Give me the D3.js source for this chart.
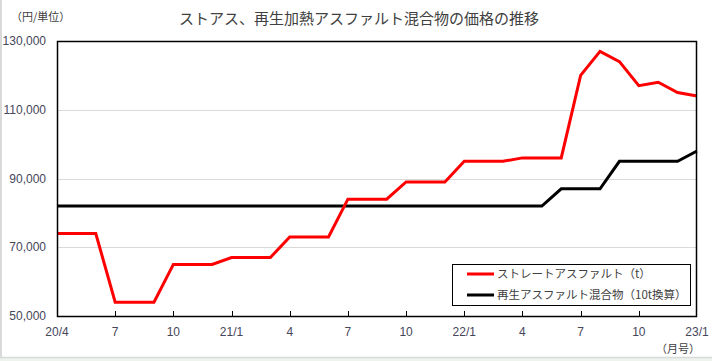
<!DOCTYPE html>
<html><head><meta charset="utf-8">
<script src="https://cdn.jsdelivr.net/npm/d3@7/dist/d3.min.js"></script>
<style>body{margin:0;background:#fff}svg{display:block}</style>
</head><body><svg id="c" width="712" height="361"></svg>
<script>
const months = ["20/4","5","6","7","8","9","10","11","12","21/1","2","3","4","5","6","7","8","9","10","11","12","22/1","2","3","4","5","6","7","8","9","10","11","12","23/1"];
const straightAsphalt = [74000,74000,74000,54000,54000,54000,65000,65000,65000,67000,67000,67000,73000,73000,73000,84000,84000,84000,89000,89000,89000,95000,95000,95000,96000,96000,96000,120000,127000,124000,117000,118000,115000,114000];
const recycledMix = [82000,82000,82000,82000,82000,82000,82000,82000,82000,82000,82000,82000,82000,82000,82000,82000,82000,82000,82000,82000,82000,82000,82000,82000,82000,82000,87000,87000,87000,95000,95000,95000,95000,98000];
const yTicks = [50000,70000,90000,110000,130000];
const xTickLabels = ["20/4","7","10","21/1","4","7","10","22/1","4","7","10","23/1"];
const seriesNames = ["ストレートアスファルト（t）","再生アスファルト混合物（10t換算）"];
const seriesColors = ["#ff0000","#000000"];
const title = "ストアス、再生加熱アスファルト混合物の価格の推移";

const svg = d3.select("#c");
const font = "'Noto Sans CJK JP','Noto Sans',sans-serif";
const L=57, R=697, T=41, B=316;

// outer frame
svg.append("rect").attr("x",0).attr("y",358).attr("width",712).attr("height",3).attr("fill","#eef3ee");
svg.append("line").attr("x1",1).attr("x2",1).attr("y1",0).attr("y2",358).attr("stroke","#d9d9d9").attr("stroke-width",2);
svg.append("line").attr("x1",0).attr("x2",712).attr("y1",357.5).attr("y2",357.5).attr("stroke","#d9d9d9").attr("stroke-width",1.5);

const x = d3.scalePoint().domain(d3.range(months.length)).range([L,R]);
const y = d3.scaleLinear().domain([50000,130000]).range([B,T]);

// gridlines
svg.append("g").selectAll("line").data(yTicks.slice(1,-1)).join("line")
  .attr("x1",L).attr("x2",R).attr("y1",d=>Math.round(y(d))+0.5).attr("y2",d=>Math.round(y(d))+0.5)
  .attr("stroke","#d9d9d9").attr("stroke-width",1);

// y labels
svg.append("g").selectAll("text").data(yTicks).join("text")
  .attr("x",46).attr("y",d=>y(d)).attr("dy","0.35em").attr("text-anchor","end")
  .attr("font-family","Arial,'Liberation Sans',sans-serif").attr("font-size",12).attr("fill","#46465a")
  .text(d=>d3.format(",")(d));

// x ticks
const tickIdx = d3.range(0,months.length,3);
svg.append("g").selectAll("line").data(tickIdx.slice(1,-1)).join("line")
  .attr("x1",d=>Math.round(x(d))+0.5).attr("x2",d=>Math.round(x(d))+0.5).attr("y1",B).attr("y2",B-5)
  .attr("stroke","#000").attr("stroke-width",1);
svg.append("g").selectAll("text").data(tickIdx).join("text")
  .attr("x",d=>x(d)).attr("y",332).attr("dy","0.35em").attr("text-anchor","middle")
  .attr("font-family","Arial,'Liberation Sans',sans-serif").attr("font-size",12).attr("fill","#46465a")
  .text((d,i)=>xTickLabels[i]);

// lines
const line = d3.line().x((d,i)=>x(i)).y(d=>y(d));
[recycledMix, straightAsphalt].forEach((s,k)=>{
  const col = k===0 ? seriesColors[1] : seriesColors[0];
  svg.append("path").attr("d",line(s)).attr("fill","none").attr("stroke",col).attr("stroke-width",3).attr("stroke-linejoin","miter");
});

// plot frame
svg.append("rect").attr("x",L+0.5).attr("y",T+0.5).attr("width",R-L-1).attr("height",B-T)
  .attr("fill","none").attr("stroke","#000").attr("stroke-width",1.5);

// title and units
svg.append("text").attr("x",359).attr("y",19).attr("dy","0.35em").attr("text-anchor","middle")
  .attr("font-family",font).attr("font-size",15).attr("fill","#404040").text(title);
svg.append("text").attr("x",11).attr("y",17).attr("dy","0.35em")
  .attr("font-family",font).attr("font-size",11).attr("fill","#404040").text("（円/単位）");
svg.append("text").attr("x",700).attr("y",349).attr("dy","0.35em").attr("text-anchor","end")
  .attr("font-family",font).attr("font-size",11).attr("fill","#404040").text("（月号）");

// legend
const lg = svg.append("g");
lg.append("rect").attr("x",452.5).attr("y",264.5).attr("width",238).attr("height",41)
  .attr("fill","#fff").attr("stroke","#000").attr("stroke-width",1);
seriesNames.forEach((n,i)=>{
  const yy = 274 + i*21;
  lg.append("line").attr("x1",467).attr("x2",494).attr("y1",yy).attr("y2",yy).attr("stroke",seriesColors[i]).attr("stroke-width",3);
  lg.append("text").attr("x",497).attr("y",yy).attr("dy","0.35em")
    .attr("font-family",font).attr("font-size",11.5).attr("fill","#404040").text(n);
});
</script></body></html>
